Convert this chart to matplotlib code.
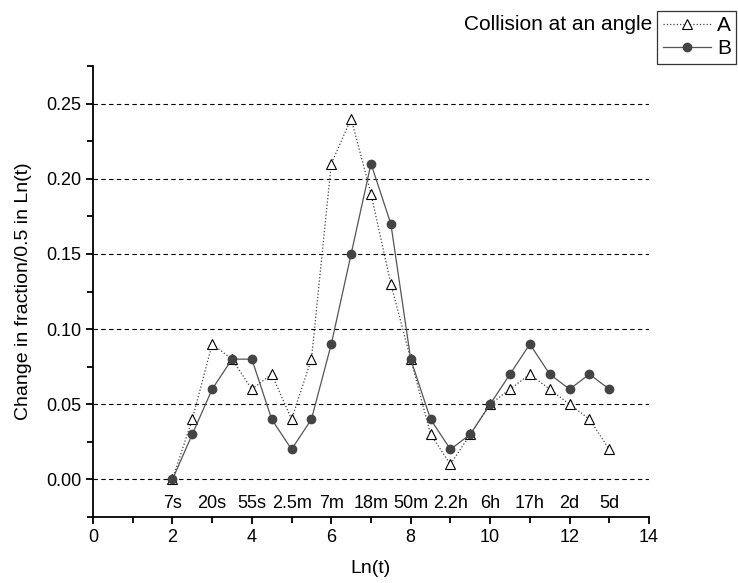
import matplotlib.pyplot as plt
from matplotlib.ticker import MultipleLocator
import matplotlib.transforms as mtransforms

plt.rcParams['font.family'] = ['Liberation Sans', 'DejaVu Sans']

ln_t = [2, 2.5, 3, 3.5, 4, 4.5, 5, 5.5, 6, 6.5, 7, 7.5, 8, 8.5, 9, 9.5,
        10, 10.5, 11, 11.5, 12, 12.5, 13]
series_a = [0, 0.04, 0.09, 0.08, 0.06, 0.07, 0.04, 0.08, 0.21, 0.24, 0.19,
            0.13, 0.08, 0.03, 0.01, 0.03, 0.05, 0.06, 0.07, 0.06, 0.05, 0.04, 0.02]
series_b = [0, 0.03, 0.06, 0.08, 0.08, 0.04, 0.02, 0.04, 0.09, 0.15, 0.21,
            0.17, 0.08, 0.04, 0.02, 0.03, 0.05, 0.07, 0.09, 0.07, 0.06, 0.07, 0.06]
time_pos = [2, 3, 4, 5, 6, 7, 8, 9, 10, 11, 12, 13]
time_labels = ["7s", "20s", "55s", "2.5m", "7m", "18m", "50m", "2.2h",
               "6h", "17h", "2d", "5d"]

fig = plt.figure(figsize=(7.38, 5.83), dpi=100)
ax = fig.add_axes([93 / 738, 66 / 583, (649 - 93) / 738, (517 - 66) / 583])

ax.set_xlim(0, 14)
ax.set_ylim(-0.025, 0.275)

for yv in [0, 0.05, 0.10, 0.15, 0.20, 0.25]:
    ax.axhline(yv, color='black', lw=0.8, ls=(0, (4, 3)), zorder=1)

la, = ax.plot(ln_t, series_a, ls=':', color='#444444', lw=0.9,
              marker='^', ms=7, mfc='white', mec='black', mew=0.8, zorder=3)
lb, = ax.plot(ln_t, series_b, ls='-', color='#555555', lw=0.9,
              marker='o', ms=6, mfc='#444444', mec='#444444', zorder=4)

trans = mtransforms.blended_transform_factory(ax.transData, ax.transAxes)
for xp, lab in zip(time_pos, time_labels):
    ax.text(xp, 0.012, lab, transform=trans, ha='center', va='bottom',
            fontsize=13)

ax.spines['top'].set_visible(False)
ax.spines['right'].set_visible(False)
ax.spines['left'].set_linewidth(1.3)
ax.spines['bottom'].set_linewidth(1.3)

ax.xaxis.set_major_locator(MultipleLocator(2))
ax.xaxis.set_minor_locator(MultipleLocator(1))
ax.yaxis.set_major_locator(MultipleLocator(0.05))
ax.yaxis.set_minor_locator(MultipleLocator(0.025))
ax.yaxis.set_major_formatter(plt.FormatStrFormatter('%.2f'))
ax.tick_params(which='major', direction='out', length=5, width=1.3,
               labelsize=13)
ax.tick_params(which='minor', direction='out', length=4, width=1.3)

ax.set_xlabel("Ln(t)", fontsize=14, labelpad=10)
ax.set_ylabel("Change in fraction/0.5 in Ln(t)", fontsize=14, labelpad=10)

leg = fig.legend([la, lb], ["A", "B"], loc='upper right',
                 bbox_to_anchor=(736 / 738, 1 - 11 / 583), fontsize=15,
                 frameon=True, fancybox=False, edgecolor='black',
                 handlelength=2.3, handletextpad=0.3, borderpad=0.25,
                 labelspacing=0.2, borderaxespad=0)
leg.get_frame().set_linewidth(0.9)
fig.text(652 / 738, 1 - 25 / 583, "Collision at an angle", ha='right',
         va='center', fontsize=15)

fig.savefig("out.png", dpi=100)
